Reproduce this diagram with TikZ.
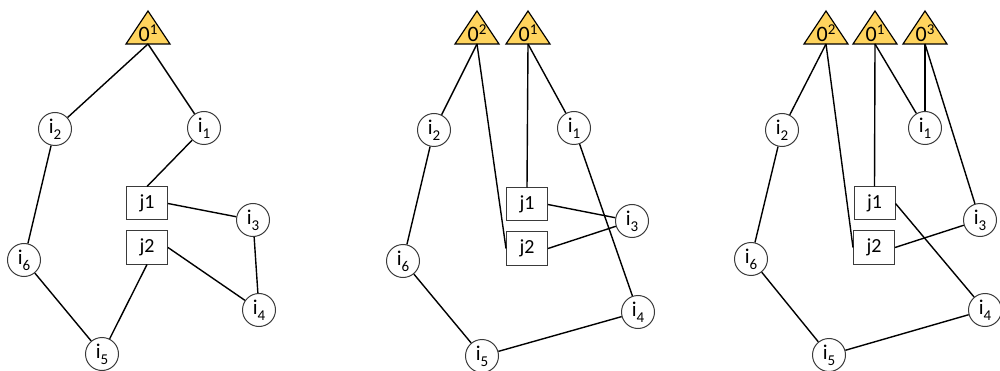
\documentclass[tikz,border=0pt]{standalone}
\usepackage{fontspec}
\setmainfont{Carlito}
\definecolor{gold}{HTML}{FFD45E}
\definecolor{edge}{HTML}{3A3A3A}
\newcommand\mysub[1]{\raisebox{-0.28em}{\fontsize{15}{15}\selectfont #1}}
\newcommand\mysup[1]{\raisebox{0.36em}{\fontsize{15}{15}\selectfont #1}}
\tikzset{
  every picture/.style={x=1pt,y=-1pt},
  vtx/.style={circle,draw=edge,line width=1pt,fill=white,minimum size=33pt,inner sep=0pt,font=\fontsize{21}{21}\selectfont},
  box/.style={rectangle,draw=edge,line width=1pt,fill=white,minimum width=41pt,minimum height=33pt,inner sep=0pt,font=\fontsize{20}{20}\selectfont},
  trishape/.style={draw=black,line width=1.2pt,fill=gold,line join=miter},
  trilabel/.style={inner sep=0pt,font=\fontsize{22}{22}\selectfont},
  link/.style={draw=black,line width=1.4pt},
}
\newcommand\gtri[3]{%
  \draw[trishape] ({#2-22},44) -- (#2,11) -- ({#2+22},44) -- cycle;
  \node[trilabel,anchor=base] (#1lab) at (#2,42) {0\mysup{#3}};
  \coordinate (#1) at (#2,44);
}
\begin{document}
\begin{tikzpicture}
\useasboundingbox (0,0) rectangle (1000,371);
% ---------- panel 1 ----------
\gtri{aO1}{148}{1}
\node[vtx] (ai2) at (55,129) {i\mysub{2}};
\node[vtx] (ai1) at (204,128) {i\mysub{1}};
\node[box] (aj1) at (147,203.5) {j1};
\node[box] (aj2) at (147,247.5) {j2};
\node[vtx] (ai3) at (253,220) {i\mysub{3}};
\node[vtx] (ai6) at (24,260) {i\mysub{6}};
\node[vtx] (ai4) at (259,310) {i\mysub{4}};
\node[vtx] (ai5) at (102,354) {i\mysub{5}};
\draw[link] (aO1) -- (ai2);
\draw[link] (aO1) -- (ai1);
\draw[link] (ai1) -- (aj1.north);
\draw[link] (aj1.east) -- (ai3);
\draw[link] (aj2.east) -- (ai4);
\draw[link] (ai3) -- (ai4);
\draw[link] (aj2.south) -- (ai5);
\draw[link] (ai5) -- (ai6);
\draw[link] (ai6) -- (ai2);
% ---------- panel 2 ----------
\gtri{bO2}{477}{2}
\gtri{bO1}{528}{1}
\node[vtx] (bi2) at (434,130) {i\mysub{2}};
\node[vtx] (bi1) at (574,128) {i\mysub{1}};
\node[box] (bj1) at (527,204.5) {j1};
\node[box] (bj2) at (527,248.5) {j2};
\node[vtx] (bi3) at (632,221) {i\mysub{3}};
\node[vtx] (bi6) at (403,261) {i\mysub{6}};
\node[vtx] (bi4) at (638,312) {i\mysub{4}};
\node[vtx] (bi5) at (482,356) {i\mysub{5}};
\draw[link] (bO2) -- (bi2);
\draw[link] (bO2) -- (bj2.west);
\draw[link] (bO1) -- (bj1.north);
\draw[link] (bO1) -- (bi1);
\draw[link] (bi1) -- (bi4);
\draw[link] (bj1.east) -- (bi3);
\draw[link] (bj2.east) -- (bi3);
\draw[link] (bi2) -- (bi6);
\draw[link] (bi6) -- (bi5);
\draw[link] (bi5) -- (bi4);
% ---------- panel 3 ----------
\gtri{cO2}{826}{2}
\gtri{cO1}{875}{1}
\gtri{cO3}{925}{3}
\node[vtx] (ci2) at (782,130) {i\mysub{2}};
\node[vtx] (ci1) at (925,128) {i\mysub{1}};
\node[box] (cj1) at (874.5,203.5) {j1};
\node[box] (cj2) at (874,247.5) {j2};
\node[vtx] (ci3) at (980,220) {i\mysub{3}};
\node[vtx] (ci6) at (751,259) {i\mysub{6}};
\node[vtx] (ci4) at (985,310) {i\mysub{4}};
\node[vtx] (ci5) at (829,355) {i\mysub{5}};
\draw[link] (cO2) -- (ci2);
\draw[link] (cO2) -- (cj2.west);
\draw[link] (cO1) -- (cj1.north);
\draw[link] (cO1) -- (ci1);
\draw[link] (cO3) -- (ci1);
\draw[link] (cO3) -- (ci3);
\draw[link] (cj1.east) -- (ci4);
\draw[link] (cj2.east) -- (ci3);
\draw[link] (ci2) -- (ci6);
\draw[link] (ci6) -- (ci5);
\draw[link] (ci5) -- (ci4);
\end{tikzpicture}
\end{document}
